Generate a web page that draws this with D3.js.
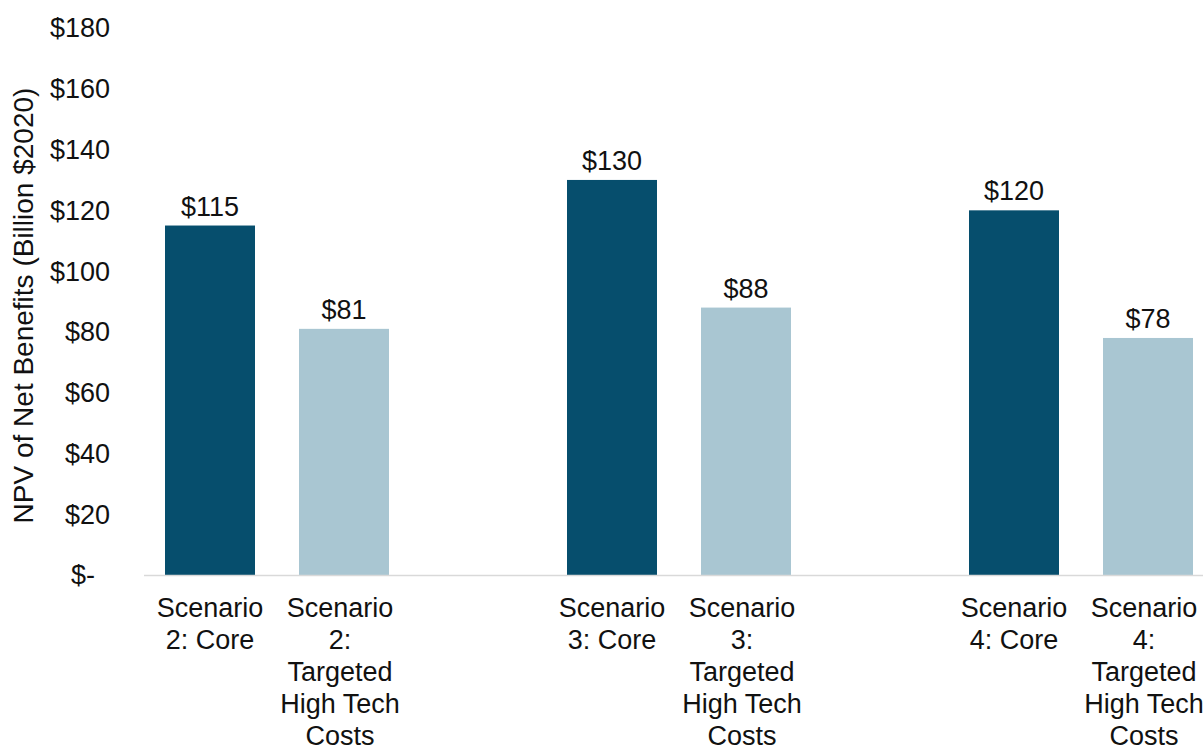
<!DOCTYPE html>
<html>
<head>
<meta charset="utf-8">
<script src="https://cdn.jsdelivr.net/npm/d3@7"></script>
<style>
  body { margin: 0; padding: 0; background: #fff; overflow: hidden; }
  svg { display: block; font-family: "Liberation Sans", Arial, sans-serif; }
</style>
</head>
<body>
<svg id="chart"></svg>
<script>
// NPV of net benefits by scenario, clustered bars with blank slots between groups

const scenarios = ["Scenario 2", "Scenario 3", "Scenario 4"];
const variants = ["Core", "Targeted High Tech Costs"];
const values = [115, 81, 130, 88, 120, 78];
const yTicks = [0, 20, 40, 60, 80, 100, 120, 140, 160, 180];
const yTitle = "NPV of Net Benefits (Billion $2020)";
const colors = ["#064e6d", "#a9c6d2"];

const width = 1203, height = 747;
const fontSize = 27;

const bars = values.map((v, i) => {
  const g = Math.floor(i / variants.length), j = i % variants.length;
  return { value: v, slot: g * (variants.length + 1) + j, variant: j,
           label: `${scenarios[g]}: ${variants[j]}` };
});
const slotCount = scenarios.length * (variants.length + 1) - 1;

const svg = d3.select("#chart").attr("width", width).attr("height", height);

const x = d3.scaleBand()
  .domain(d3.range(slotCount))
  .range([143, 143 + 134 * slotCount])
  .paddingInner(44 / 134)
  .paddingOuter(22 / 134);

const y = d3.scaleLinear().domain([0, 180]).range([575, 28]);

// y tick labels
const fmt = v => v === 0 ? "$-" : `$${v}`;
svg.append("g").selectAll("text")
  .data(yTicks)
  .join("text")
  .attr("x", d => d === 0 ? 95 : 110)
  .attr("y", d => y(d))
  .attr("dy", "0.35em")
  .attr("text-anchor", "end")
  .attr("font-size", fontSize)
  .attr("fill", "#111")
  .text(fmt);

// y title
svg.append("text")
  .attr("transform", `translate(33, ${(y(0) + y(180)) / 2 + 4}) rotate(-90)`)
  .attr("text-anchor", "middle")
  .attr("font-size", 28)
  .attr("fill", "#111")
  .text(yTitle);

// bars
svg.append("g").selectAll("rect")
  .data(bars)
  .join("rect")
  .attr("x", d => x(d.slot))
  .attr("width", x.bandwidth())
  .attr("y", d => y(d.value))
  .attr("height", d => y(0) - y(d.value))
  .attr("fill", d => colors[d.variant]);

// value labels
svg.append("g").selectAll("text")
  .data(bars)
  .join("text")
  .attr("x", d => x(d.slot) + x.bandwidth() / 2)
  .attr("y", d => y(d.value) - 10)
  .attr("text-anchor", "middle")
  .attr("font-size", fontSize)
  .attr("fill", "#111")
  .text(d => `$${d.value}`);

// baseline
svg.append("line")
  .attr("x1", 144).attr("x2", width)
  .attr("y1", y(0) + 0.5).attr("y2", y(0) + 0.5)
  .attr("stroke", "#d9d9d9")
  .attr("stroke-width", 1.5);

// category labels, wrapped like Excel does
const catLabels = svg.append("g").selectAll("text")
  .data(bars)
  .join("text")
  .attr("text-anchor", "middle")
  .attr("font-size", fontSize)
  .attr("fill", "#111")
  .attr("y", 617);

catLabels.each(function(d) {
  const text = d3.select(this);
  const cx = x(d.slot) + x.bandwidth() / 2 - (d.variant === 1 ? 4 : 0);
  const words = d.label.split(" ");
  let line = [];
  let tspan = text.append("tspan").attr("x", cx).attr("dy", 0);
  words.forEach(w => {
    line.push(w);
    tspan.text(line.join(" "));
    if (tspan.node().getComputedTextLength() > 130 && line.length > 1) {
      line.pop();
      tspan.text(line.join(" "));
      line = [w];
      tspan = text.append("tspan").attr("x", cx).attr("dy", 32).text(w);
    }
  });
});
</script>
</body>
</html>
